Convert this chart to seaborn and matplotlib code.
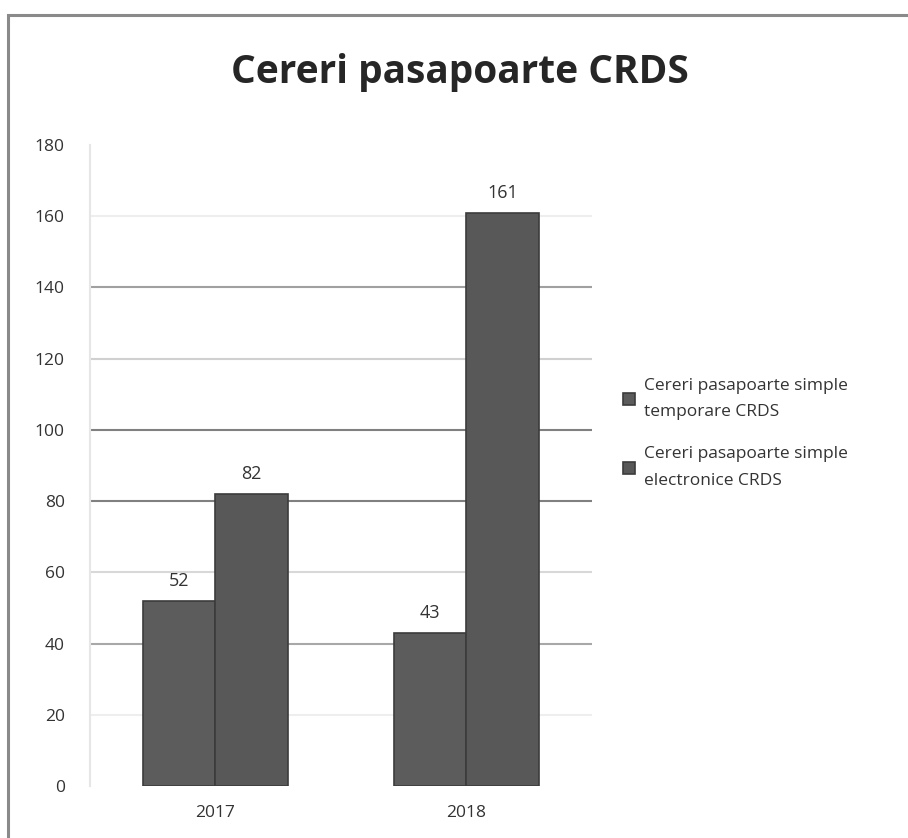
import matplotlib
matplotlib.use("Agg")
import matplotlib.pyplot as plt
import matplotlib.patches as mpatches
import pandas as pd
import seaborn as sb

years = ["2017", "2018"]
series_names = ["Cereri pasapoarte simple\ntemporare CRDS",
                "Cereri pasapoarte simple\nelectronice CRDS"]
temporare = [52, 43]
electronice = [82, 161]
y_ticks = [0, 20, 40, 60, 80, 100, 120, 140, 160, 180]

df = pd.DataFrame({
    "year": years * 2,
    "series": [series_names[0]] * 2 + [series_names[1]] * 2,
    "value": temporare + electronice,
})

sb.set_style("white")
plt.rcParams["font.family"] = ["Open Sans", "DejaVu Sans"]

fig = plt.figure(figsize=(9.08, 8.38), dpi=100)
ax = fig.add_axes([0.099, 0.062, 0.553, 0.765])

# frame around the whole chart (cut on the right and bottom like the scan)
fig.patches.append(mpatches.Rectangle((0.009, -0.05), 1.05, 1.032, transform=fig.transFigure,
                                      fill=False, edgecolor="#8a8a8a", linewidth=2.2))

sb.barplot(data=df, x="year", y="value", hue="series", ax=ax,
           palette=["#5c5c5c", "#585858"], width=0.575, saturation=1,
           edgecolor="#3c3c3c", linewidth=1.2, legend=True)

# gridlines, shades vary like in the original
grid_shades = {20: "#eeeeee", 40: "#a8a8a8", 60: "#d8d8d8", 80: "#808080",
               100: "#808080", 120: "#d0d0d0", 140: "#a0a0a0", 160: "#eeeeee"}
for v, c in grid_shades.items():
    ax.axhline(v, color=c, linewidth=1.5, zorder=0)

ax.set_ylim(0, 180)
ax.set_xlim(-0.5, 1.5)
ax.set_yticks(y_ticks)
ax.set_yticklabels([str(t) for t in y_ticks], fontsize=12.5, color="#333333")
ax.tick_params(axis="y", pad=18, length=0)
ax.tick_params(axis="x", pad=14, length=0, labelsize=12.5, labelcolor="#333333")
ax.set_xlabel("")
ax.set_ylabel("")
for s in ["top", "right", "bottom"]:
    ax.spines[s].set_visible(False)
ax.spines["left"].set_color("#e6e6e6")
ax.spines["left"].set_linewidth(1.5)

for cont in ax.containers:
    ax.bar_label(cont, fmt="%d", padding=8, fontsize=13, color="#333333")

handles, labels = ax.get_legend_handles_labels()
leg = ax.legend(handles, labels, loc="center left", bbox_to_anchor=(1.03, 0.55), frameon=False,
                fontsize=12.5, handlelength=0.7, handleheight=0.7, handletextpad=0.5,
                labelspacing=1.5, labelcolor="#333333")
for t in leg.get_texts():
    t.set_linespacing(1.9)

fig.suptitle("Cereri pasapoarte CRDS", fontsize=28, fontweight="bold", x=0.507, y=0.937)

plt.savefig("out.png", dpi=100)
